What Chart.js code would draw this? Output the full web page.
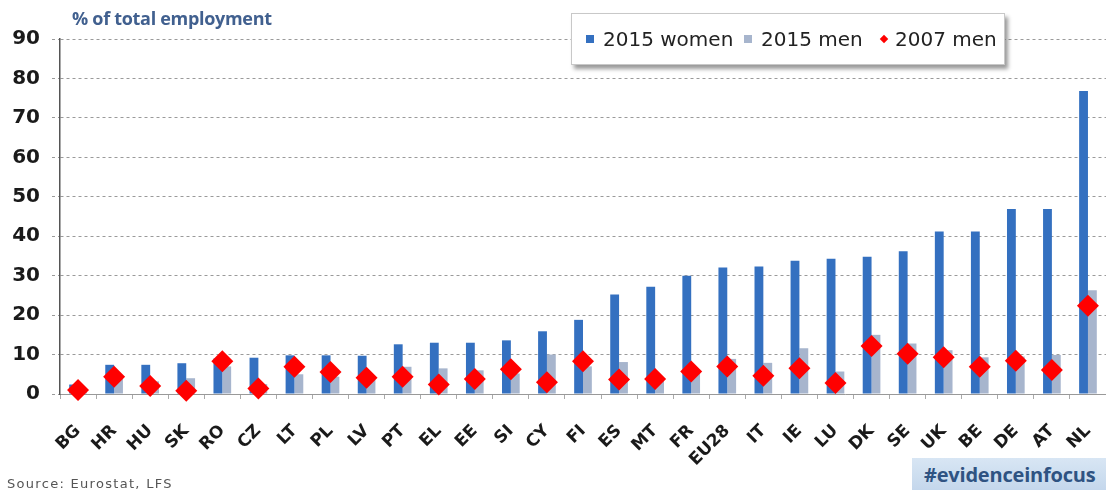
<!DOCTYPE html>
<html>
<head>
<meta charset="utf-8">
<script src="https://cdn.jsdelivr.net/npm/chart.js@4.4.1/dist/chart.umd.min.js"></script>
<style>
  html, body { margin: 0; padding: 0; background: #fff; }
  #wrap { position: relative; width: 1106px; height: 490px; overflow: hidden; }
  #chart { position: absolute; left: 0; top: 0; }
  #ytitle { position: absolute; left: 72px; top: 6px; font: 700 18px "Open Sans", sans-serif; letter-spacing: -0.3px; color: #41608f; white-space: nowrap; }
  #legend { position: absolute; left: 571px; top: 13px; width: 432px; height: 50px; background: #fff;
            border: 1px solid #c8c8c8; box-shadow: 3px 4px 4px rgba(0,0,0,0.4);
            font: 20px "DejaVu Sans", sans-serif; color: #222; }
  #legend .it { position: absolute; top: 13px; white-space: nowrap; line-height: 24px; }
  #legend .sw { display: inline-block; width: 8px; height: 8px; margin-right: 9px; vertical-align: 3px; }
  #legend .dm { display: inline-block; width: 6px; height: 6px; background: #ff0000; transform: rotate(45deg); margin-right: 8px; margin-left: 1px; vertical-align: 4px; }
  #source { position: absolute; left: 7px; top: 476px; font: 13px "DejaVu Sans", sans-serif; letter-spacing: 1.3px; color: #555; white-space: nowrap; }
  #tag { position: absolute; left: 912px; top: 458px; width: 194px; height: 32px;
         background: linear-gradient(#d8e6f4, #c4d7ec); }
  #tag span { position: absolute; left: 12px; top: 3px; font: 700 20px "Open Sans", sans-serif; letter-spacing: -0.2px; color: #2f5382; white-space: nowrap; }
</style>
</head>
<body>
<div id="wrap">
  <canvas id="chart" width="1106" height="490"></canvas>
  <div id="ytitle">% of total employment</div>
  <div id="legend">
    <div class="it" style="left:14px"><span class="sw" style="background:#3470c0"></span>2015 women</div>
    <div class="it" style="left:172px"><span class="sw" style="background:#a7b5cd"></span>2015 men</div>
    <div class="it" style="left:308px"><span class="dm"></span>2007 men</div>
  </div>
  <div id="source">Source: Eurostat, LFS</div>
  <div id="tag"><span>#evidenceinfocus</span></div>
</div>
<script>
const categories = ['BG','HR','HU','SK','RO','CZ','LT','PL','LV','PT','EL','EE','SI','CY','FI','ES','MT','FR','EU28','IT','IE','LU','DK','SE','UK','BE','DE','AT','NL'];
const women2015 = [2.4, 7.4, 7.4, 7.8, 9.0, 9.2, 9.8, 9.8, 9.7, 12.6, 13.0, 13.0, 13.6, 15.9, 18.8, 25.2, 27.2, 30.0, 32.1, 32.3, 33.8, 34.3, 34.8, 36.2, 41.2, 41.2, 46.9, 46.9, 76.8];
const men2015 = [1.5, 4.8, 3.2, 4.0, 7.0, 2.5, 5.0, 4.4, 3.6, 6.9, 6.5, 6.0, 5.2, 10.0, 7.0, 8.1, 4.2, 6.0, 8.9, 7.9, 11.6, 5.7, 15.0, 12.8, 11.1, 9.3, 9.5, 9.9, 26.3];
const men2007 = [1.0, 4.4, 2.0, 0.8, 8.3, 1.4, 6.9, 5.6, 4.1, 4.4, 2.4, 3.8, 6.3, 3.0, 8.3, 3.7, 3.8, 5.7, 7.0, 4.6, 6.5, 2.8, 12.2, 10.2, 9.3, 6.9, 8.4, 6.1, 22.4];
const yTicks = [0, 10, 20, 30, 40, 50, 60, 70, 80, 90];

new Chart(document.getElementById('chart'), {
  type: 'bar',
  data: {
    labels: categories,
    datasets: [
      { label: '2015 women', data: women2015, backgroundColor: '#3470c0', order: 2,
        barPercentage: 1, categoryPercentage: 0.49 },
      { label: '2015 men', data: men2015, backgroundColor: '#a7b5cd', order: 2,
        barPercentage: 1, categoryPercentage: 0.49 },
      { type: 'line', label: '2007 men', data: men2007, showLine: false, order: 0,
        pointStyle: 'rectRot', pointRadius: 11, pointHoverRadius: 11, pointBorderWidth: 0,
        pointBackgroundColor: '#ff0000', borderColor: '#ff0000', clip: false }
    ]
  },
  options: {
    responsive: false,
    animation: false,
    events: [],
    layout: { autoPadding: false, padding: { top: 39, right: 0, left: 0, bottom: 0 } },
    plugins: { legend: { display: false }, tooltip: { enabled: false } },
    scales: {
      x: {
        grid: { display: true, drawOnChartArea: false, drawTicks: true, tickLength: 5, color: '#aaa', offset: true },
        border: { color: '#999', width: 1 },
        ticks: { autoSkip: false, maxRotation: 45, minRotation: 45, padding: 22, color: '#1a1a1a',
                 font: { family: 'DejaVu Sans', weight: 'bold', size: 17 } },
        afterFit: (s) => { s.height = 96; s.paddingRight = 0; s.paddingLeft = 0; }
      },
      y: {
        min: 0, max: 90,
        afterBuildTicks: (s) => { s.ticks = yTicks.map(v => ({ value: v })); },
        grid: { color: '#9a9a9a', tickLength: 8, tickBorderDash: [3, 3], tickColor: '#9a9a9a' },
        border: { color: '#555', width: 1.5, dash: [3, 3] },
        ticks: { padding: 12, color: '#1a1a1a', font: { family: 'DejaVu Sans', weight: 'bold', size: 20 } },
        afterFit: (s) => { s.width = 60; }
      }
    }
  }
});
</script>
</body>
</html>
